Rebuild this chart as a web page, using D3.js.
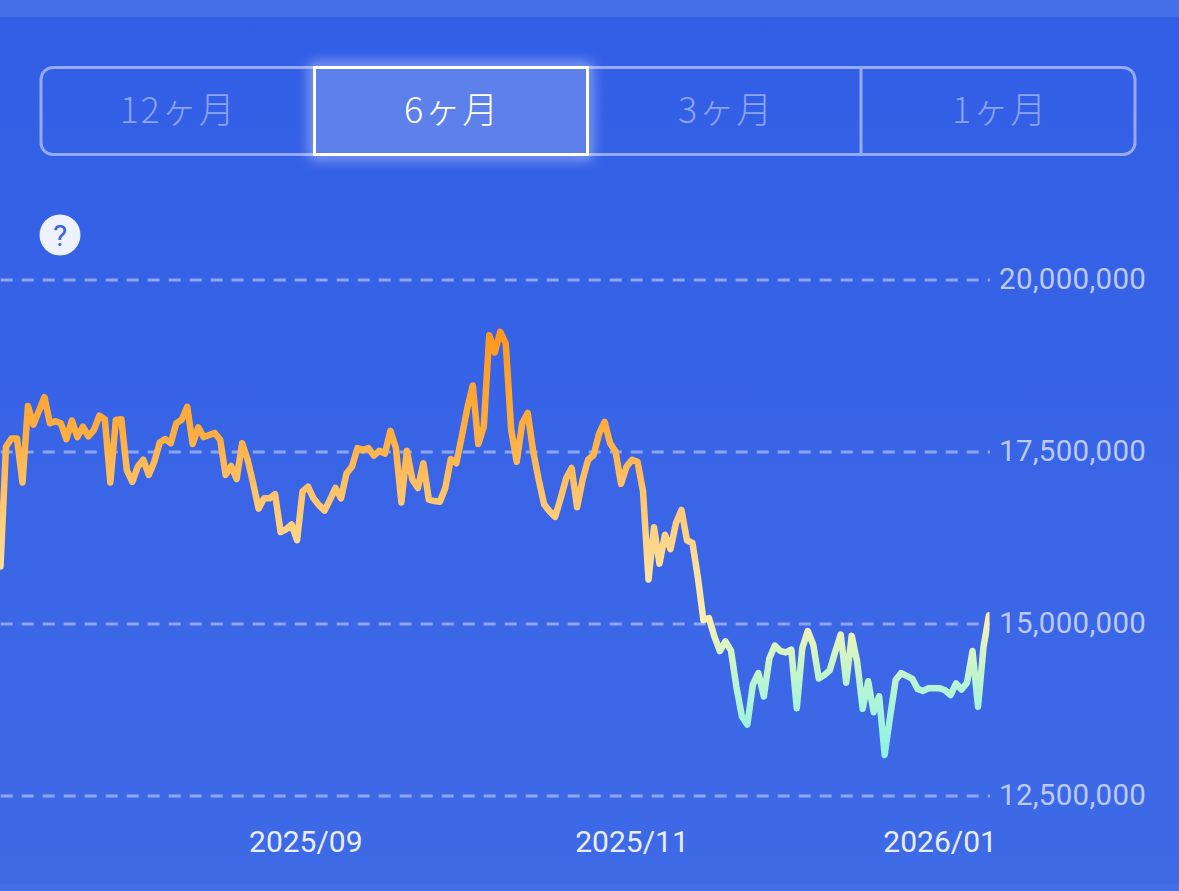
<!DOCTYPE html>
<html>
<head>
<meta charset="utf-8">
<script src="https://cdn.jsdelivr.net/npm/d3@7"></script>
<style>
html, body { margin: 0; padding: 0; background: #3d68e6; overflow: hidden; }
svg { display: block; }
</style>
</head>
<body>
<svg id="chart" width="1179" height="891"></svg>
<script>
// values in millions
const prices = [
  15.83,17.57,17.69,17.69,17.05,18.16,17.89,18.09,18.29,17.91,
  17.94,17.91,17.68,17.95,17.71,17.86,17.72,17.81,18.02,17.97,
  17.05,17.96,17.97,17.23,17.06,17.28,17.38,17.16,17.35,17.63,
  17.68,17.62,17.91,17.96,18.15,17.61,17.85,17.71,17.74,17.77,
  17.67,17.16,17.29,17.10,17.62,17.38,17.04,16.67,16.82,16.82,
  16.88,16.33,16.37,16.44,16.21,16.92,16.99,16.82,16.72,16.64,
  16.80,16.97,16.82,17.18,17.28,17.55,17.52,17.55,17.44,17.51,
  17.47,17.80,17.55,16.76,17.51,17.09,16.97,17.33,16.80,16.78,
  16.77,16.97,17.39,17.33,17.72,18.13,18.46,17.61,17.86,19.19,
  18.94,19.24,19.07,17.81,17.35,17.91,18.06,17.50,17.09,16.73,
  16.63,16.55,16.82,17.11,17.26,16.69,17.09,17.38,17.45,17.76,
  17.93,17.62,17.50,17.03,17.28,17.38,17.35,16.92,15.64,16.40,
  15.87,16.29,16.08,16.46,16.65,16.21,16.17,15.66,15.05,15.08,
  14.81,14.60,14.74,14.61,14.08,13.65,13.53,14.11,14.28,13.94,
  14.49,14.68,14.60,14.58,14.62,13.77,14.64,14.89,14.69,14.20,
  14.25,14.32,14.59,14.84,14.14,14.82,14.44,13.76,14.16,13.71,
  13.94,13.09,13.65,14.18,14.28,14.24,14.20,14.05,14.02,14.06,
  14.06,14.06,14.03,13.96,14.13,14.04,14.14,14.60,13.79,14.66,
  15.12
];
const yTicks = [12.5, 15, 17.5, 20];
const monthLabels = ["2025/09", "2025/11", "2026/01"];
const monthIndex = [55.5, 114.9, 171];
const periods = ["12ヶ月", "6ヶ月", "3ヶ月", "1ヶ月"];
const selectedPeriod = "6ヶ月";

const svg = d3.select("#chart");
const defs = svg.append("defs");

// background
const bg = defs.append("linearGradient").attr("id", "bg")
  .attr("x1", 0).attr("x2", 0).attr("y1", 0).attr("y2", 1);
bg.append("stop").attr("offset", "0%").attr("stop-color", "#325ee6");
bg.append("stop").attr("offset", "100%").attr("stop-color", "#3f6ae6");

svg.append("rect").attr("width", 1179).attr("height", 891).attr("fill", "#446fe8");
svg.append("rect").attr("y", 17).attr("width", 1179).attr("height", 867).attr("fill", "url(#bg)");

var scale = {
  x: d3.scaleLinear().domain([0, prices.length - 1]).range([0.5, 989]),
  y: d3.scaleLinear().domain([12.5, 20]).range([795.5, 279.5])
};

// period switch
const band = d3.scaleBand().domain(periods).range([40, 1136]);
const sw = svg.append("g");
sw.append("rect").attr("x", 41).attr("y", 67.5).attr("width", 1094).attr("height", 87)
  .attr("rx", 12).attr("fill", "none").attr("stroke", "#94aaf3").attr("stroke-width", 3);
sw.append("line").attr("x1", 861).attr("x2", 861).attr("y1", 67).attr("y2", 155)
  .attr("stroke", "#94aaf3").attr("stroke-width", 3);

const glow = defs.append("filter").attr("id", "glow")
  .attr("x", "-10%").attr("y", "-30%").attr("width", "120%").attr("height", "160%");
glow.append("feGaussianBlur").attr("stdDeviation", 7);

sw.append("rect").attr("x", band(selectedPeriod) + 0.5).attr("y", 67.5)
  .attr("width", band.bandwidth() - 1).attr("height", 87)
  .attr("fill", "none").attr("stroke", "#ffffff").attr("stroke-width", 6).attr("opacity", 0.75)
  .attr("filter", "url(#glow)");
sw.append("rect").attr("x", band(selectedPeriod) + 0.5).attr("y", 67.5)
  .attr("width", band.bandwidth() - 1).attr("height", 87)
  .attr("fill", "#5e80ea").attr("stroke", "#ffffff").attr("stroke-width", 3);

sw.selectAll("text.period").data(periods).join("text")
  .attr("class", "period")
  .attr("x", d => band(d) + band.bandwidth() / 2 + 1)
  .attr("y", 123)
  .attr("text-anchor", "middle")
  .attr("font-family", "'Noto Sans CJK JP'")
  .attr("font-weight", 300)
  .attr("font-size", 36)
  .attr("letter-spacing", 1.5)
  .attr("fill", d => d === selectedPeriod ? "#ffffff" : "#8aa3f2")
  .text(d => d);

// help icon
svg.append("circle").attr("cx", 60).attr("cy", 235).attr("r", 20.5).attr("fill", "#eef2fd");
svg.append("text").attr("x", 60).attr("y", 246).attr("text-anchor", "middle")
  .attr("font-family", "Roboto").attr("font-weight", 400).attr("font-size", 30)
  .attr("fill", "#3a64e6").text("?");

// y axis + dashed grid
const yAxis = d3.axisRight(scale.y)
  .tickValues(yTicks)
  .tickSize(-990)
  .tickPadding(9)
  .tickFormat(d => d3.format(",")(d * 1e6));

const gy = svg.append("g").attr("transform", "translate(990,0)").call(yAxis);
gy.select(".domain").remove();
gy.selectAll("line")
  .attr("stroke", "#8ea5f1").attr("stroke-width", 3)
  .attr("stroke-dasharray", "12 9").attr("stroke-dashoffset", 9.7);
gy.selectAll("text")
  .attr("font-family", "Roboto").attr("font-size", 29.5).attr("font-weight", 400)
  .attr("letter-spacing", 0.3)
  .attr("fill", "#bccaf8").attr("dy", "0.3em");

// x axis, only the labels are visible
const xAxis = d3.axisBottom(scale.x)
  .tickValues(monthIndex)
  .tickSize(0)
  .tickPadding(0)
  .tickFormat((d, i) => monthLabels[i]);

const gx = svg.append("g").attr("transform", "translate(0,831)").call(xAxis);
gx.select(".domain").remove();
gx.selectAll("text")
  .attr("font-family", "Roboto").attr("font-size", 30).attr("font-weight", 400)
  .attr("fill", "#e8eefc");

// price line, colour follows the value
const stroke = defs.append("linearGradient").attr("id", "lineColor")
  .attr("gradientUnits", "userSpaceOnUse")
  .attr("x1", 0).attr("x2", 0).attr("y1", scale.y(19.3)).attr("y2", scale.y(13));
stroke.selectAll("stop").data([
  ["0%", "#ff971c"],
  ["25%", "#ffaf42"],
  ["39%", "#ffc56c"],
  ["58%", "#ffe3a0"],
  ["67%", "#fdeeb0"],
  ["74%", "#d9f5c0"],
  ["83%", "#b5f5d5"],
  ["98%", "#92f0e4"]
]).join("stop").attr("offset", d => d[0]).attr("stop-color", d => d[1]);

defs.append("clipPath").attr("id", "plot").append("rect")
  .attr("x", 0).attr("y", 0).attr("width", 989.5).attr("height", 891);

var lineGenerator = d3.line()
  .x((d, i) => scale.x(i))
  .y(d => scale.y(d));

svg.append("path")
  .attr("clip-path", "url(#plot)")
  .attr("d", lineGenerator(prices))
  .attr("fill", "none")
  .attr("stroke", "url(#lineColor)")
  .attr("stroke-width", 6.5)
  .attr("stroke-linejoin", "round")
  .attr("stroke-linecap", "round");
</script>
</body>
</html>
